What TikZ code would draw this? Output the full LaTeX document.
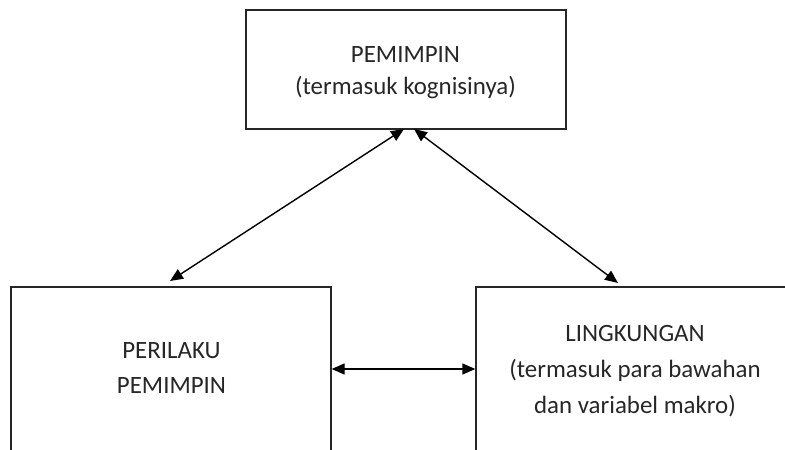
\documentclass[tikz,border=0pt]{standalone}
\usepackage{fontspec}
\setmainfont{Carlito}
\usetikzlibrary{arrows.meta}
\begin{document}
\begin{tikzpicture}[x=1pt,y=1pt,
  box/.style={draw=black!85, line width=1.4pt, minimum width=320pt, inner sep=0pt},
  txt/.style={anchor=base, inner sep=0pt, text=black!85, font=\fontsize{24.9}{30}\selectfont},
  conn/.style={black, line width=1.4pt, {Triangle[length=13pt,width=11pt]}-{Triangle[length=13pt,width=11pt]}}]
\useasboundingbox (0,0) rectangle (785,450);
\clip (0,0) rectangle (785,450);
% boxes (image y -> 450 - y)
\node[box, minimum height=119pt] (top) at (406,380.5) {};
\node[box, minimum height=183pt] (left) at (171,71.5) {};
\node[box, minimum width=380pt, minimum height=183pt] (right) at (666,71.5) {};
% texts
\node[txt] (t1) at (405.5,387.3) {PEMIMPIN};
\node[txt] (t2) at (405.5,355.7) {(termasuk kognisinya)};
\node[txt] (l1) at (171.5,91) {PERILAKU};
\node[txt] (l2) at (171.5,56) {PEMIMPIN};
\node[txt] (r1) at (635,108.3) {LINGKUNGAN};
\node[txt] (r2) at (635,72.5) {(termasuk para bawahan};
\node[txt] (r3) at (635,36) {dan variabel makro)};
% connectors
\coordinate (topL) at (404,321);
\coordinate (topR) at (414,321);
\coordinate (leftT) at (170,169);
\coordinate (rightT) at (618,167);
\draw[conn] (topL) -- (leftT);
\draw[conn] (topR) -- (rightT);
\draw[conn] (left.east |- 0,81) -- (right.west |- 0,81);
\end{tikzpicture}
\end{document}
